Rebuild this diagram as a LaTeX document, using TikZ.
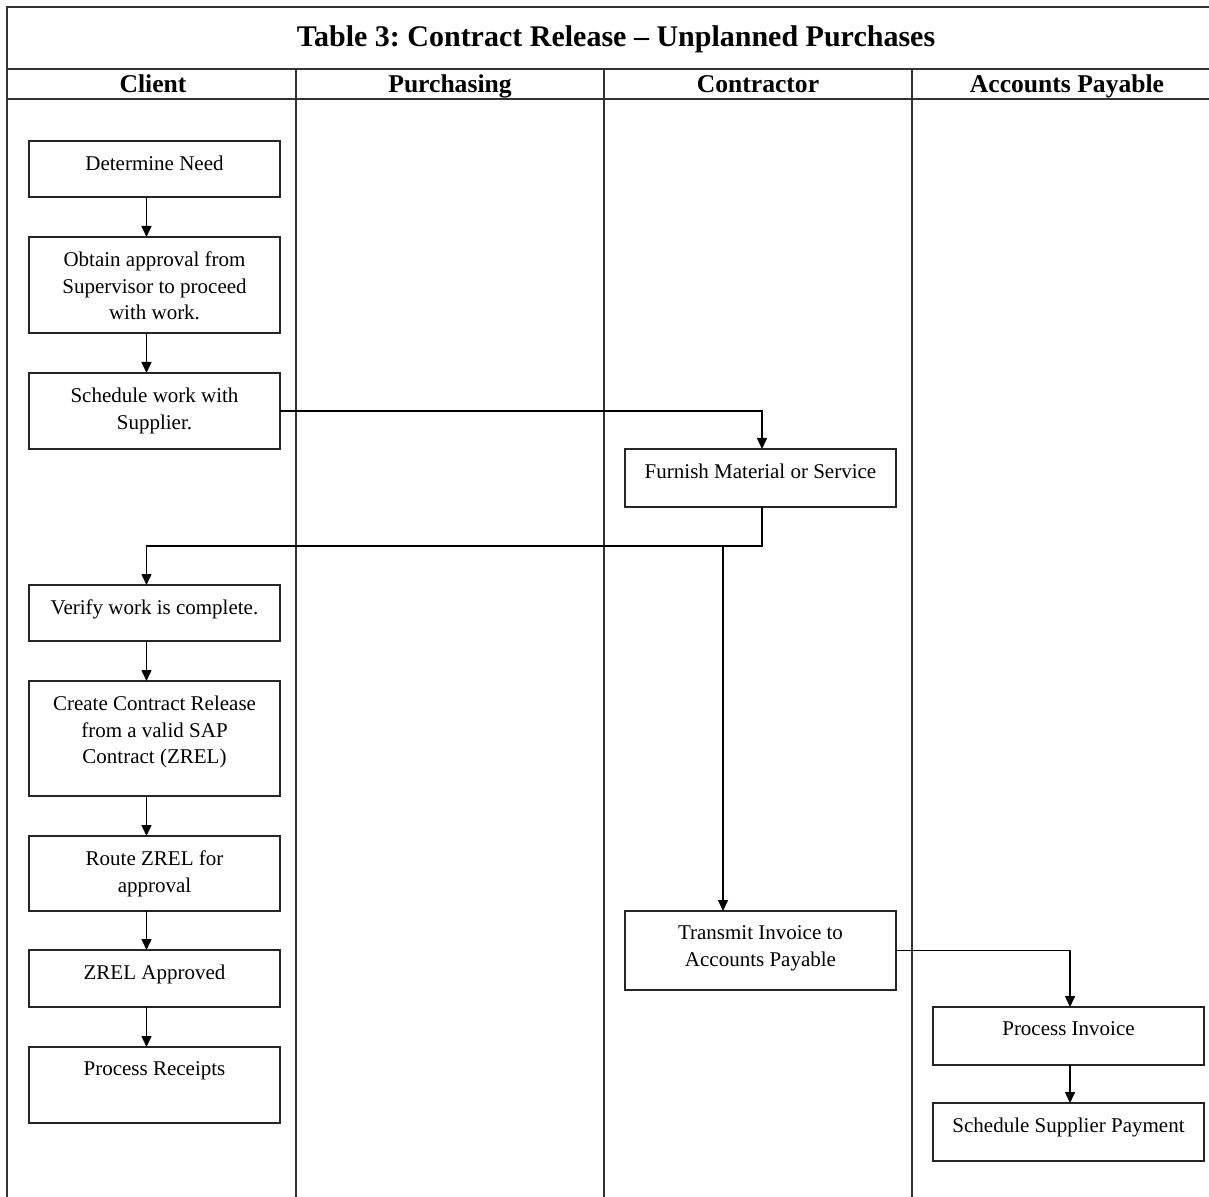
\documentclass[tikz,border=0pt]{standalone}
\usepackage{fontspec}
\setmainfont{Liberation Serif}
\usepackage{tikz}
\usetikzlibrary{arrows.meta,positioning}
\frenchspacing
\tikzset{
  lanerule/.style={
    line width=1pt,
    draw=black!80
  },
  stepbox/.style={
    draw=black!85,
    line width=0.9pt,
    fill=white,
    inner sep=0pt,
    outer sep=0pt
  },
  steptext/.style={
    anchor=north,
    align=center,
    yshift=-4pt,
    font=\fontsize{10.5}{13.2}\selectfont
  },
  flowarrow/.style={
    -{Triangle[length=5.5pt,width=5pt]},
    line width=0.75pt
  },
  titletext/.style={font=\fontsize{15}{18}\selectfont\bfseries},
  headtext/.style={
    font=\fontsize{12.8}{15}\selectfont\bfseries,
    text height=1.6ex,
    text depth=0.4ex
  }
}

\begin{document}
\begin{tikzpicture}[x=0.5pt,y=-0.5pt]
  \useasboundingbox (0,0) rectangle (1209,1197);

  % table frame and swimlanes
  \draw[lanerule] (1209,7) -- (7,7) -- (7,1197);
  \draw[lanerule] (7,69) -- (1209,69);
  \draw[lanerule] (7,99) -- (1209,99);
  \foreach \lx in {296,604,912}
    \draw[lanerule] (\lx,69) -- (\lx,1197);

  \node[titletext] (title) at (616,39) {Table 3: Contract Release -- Unplanned Purchases};
  \node[headtext] (hclient) at (153,87) {Client};
  \node[headtext] (hpurch) at (450,87) {Purchasing};
  \node[headtext] (hcontr) at (758,87) {Contractor};
  \node[headtext] (hpay) at (1067,87) {Accounts Payable};

  % client lane
  \node[stepbox, minimum width=125.5pt, minimum height=28pt,
        label={[steptext]north:Determine Need}] (need) at (154.5,169) {};
  \node[stepbox, minimum width=125.5pt, minimum height=48pt,
        label={[steptext]north:{Obtain approval from\\Supervisor to proceed\\with work.}}] (approve) at (154.5,285) {};
  \node[stepbox, minimum width=125.5pt, minimum height=38pt,
        label={[steptext]north:{Schedule work with\\Supplier.}}] (sched) at (154.5,411) {};
  \node[stepbox, minimum width=125.5pt, minimum height=28pt,
        label={[steptext]north:Verify work is complete.}] (verify) at (154.5,613) {};
  \node[stepbox, minimum width=125.5pt, minimum height=57.5pt,
        label={[steptext]north:{Create Contract Release\\from a valid SAP\\Contract (ZREL)}}] (create) at (154.5,738.5) {};
  \node[stepbox, minimum width=125.5pt, minimum height=37.5pt,
        label={[steptext]north:{Route ZREL for\\approval}}] (route) at (154.5,873.5) {};
  \node[stepbox, minimum width=125.5pt, minimum height=28.5pt,
        label={[steptext]north:ZREL Approved}] (zrel) at (154.5,978.5) {};
  \node[stepbox, minimum width=125.5pt, minimum height=38pt,
        label={[steptext]north:Process Receipts}] (receipts) at (154.5,1085) {};

  % contractor lane
  \node[stepbox, minimum width=135.5pt, minimum height=29pt,
        label={[steptext]north:Furnish Material or Service}] (furnish) at (760.5,478) {};
  \node[stepbox, minimum width=135.5pt, minimum height=39.5pt,
        label={[steptext]north:{Transmit Invoice to\\Accounts Payable}}] (transmit) at (760.5,950.5) {};

  % accounts payable lane
  \node[stepbox, minimum width=135.5pt, minimum height=29pt,
        label={[steptext]north:Process Invoice}] (procinv) at (1068.5,1036) {};
  \node[stepbox, minimum width=135.5pt, minimum height=29pt,
        label={[steptext]north:Schedule Supplier Payment}] (payment) at (1068.5,1132) {};

  \coordinate (fork) at (723,546);

  % flow
  \draw[flowarrow] ([xshift=-4pt]need.south) -- ([xshift=-4pt]approve.north);
  \draw[flowarrow] ([xshift=-4pt]approve.south) -- ([xshift=-4pt]sched.north);
  \draw[flowarrow] (sched.east) -| ([xshift=0.75pt]furnish.north);
  \draw[flowarrow] ([xshift=0.75pt]furnish.south) -- ++(0,39) -| ([xshift=-4pt]verify.north);
  \draw[flowarrow] (fork) -- (fork |- transmit.north);
  \draw[flowarrow] ([xshift=-4pt]verify.south) -- ([xshift=-4pt]create.north);
  \draw[flowarrow] ([xshift=-4pt]create.south) -- ([xshift=-4pt]route.north);
  \draw[flowarrow] ([xshift=-4pt]route.south) -- ([xshift=-4pt]zrel.north);
  \draw[flowarrow] ([xshift=-4pt]zrel.south) -- ([xshift=-4pt]receipts.north);
  \draw[flowarrow] (transmit.east) -| ([xshift=0.75pt]procinv.north);
  \draw[flowarrow] ([xshift=0.75pt]procinv.south) -- ([xshift=0.75pt]payment.north);
\end{tikzpicture}
\end{document}
